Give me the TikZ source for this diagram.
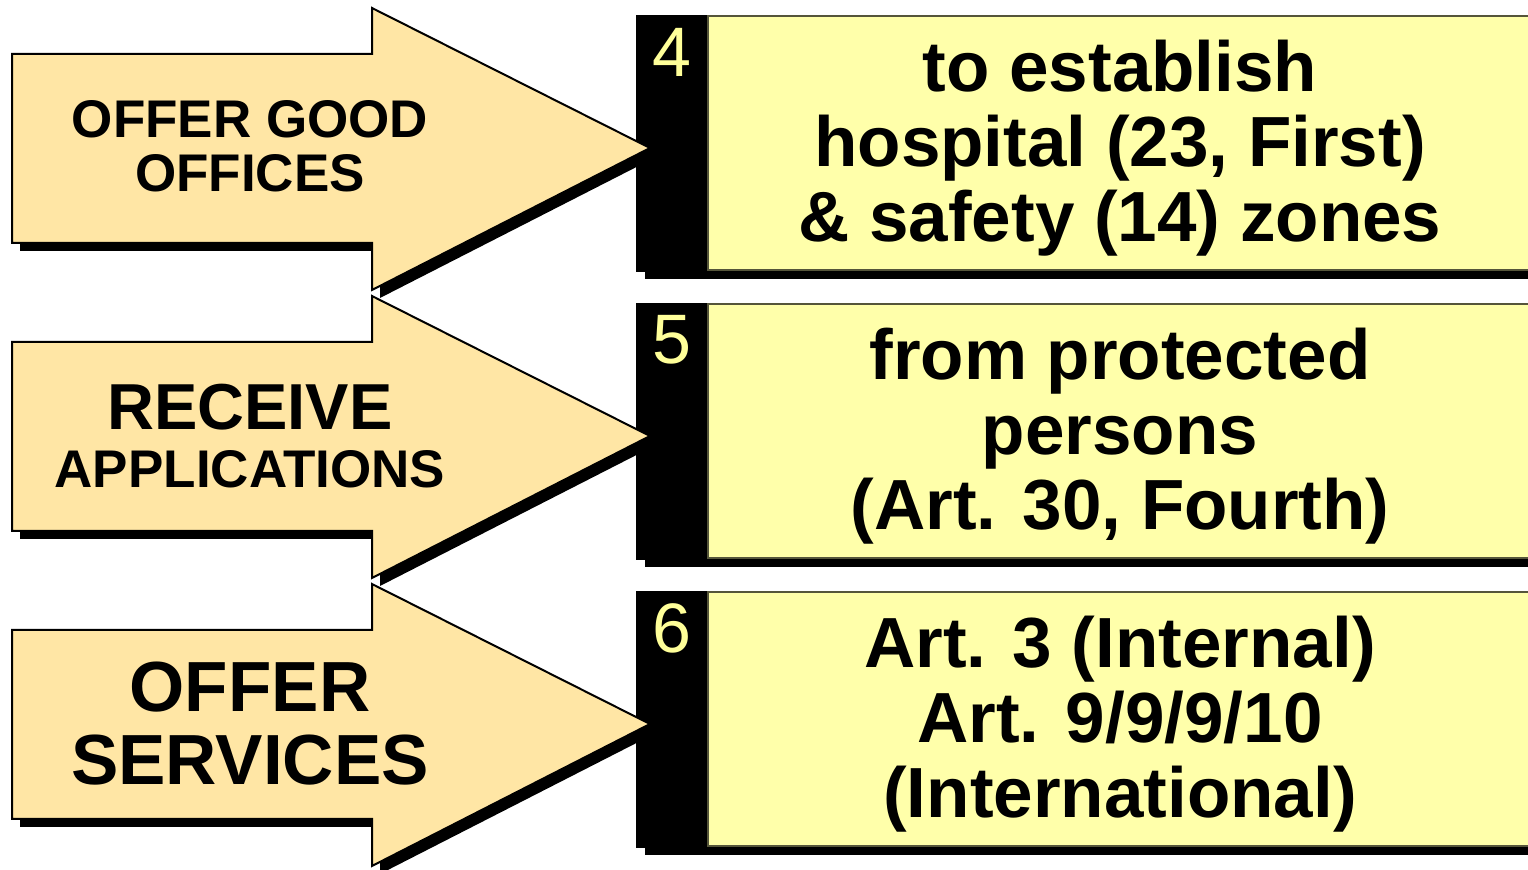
\documentclass[tikz,border=0pt]{standalone}
\usepackage{fontspec}
\setmainfont{Liberation Sans}
\usepackage{xcolor}
\usepackage{tikz}
\definecolor{arrowtan}{HTML}{FFE6A5}
\definecolor{boxyellow}{HTML}{FFFFAA}
\definecolor{digityellow}{HTML}{FFFF99}
\definecolor{boxedge}{HTML}{55553A}
\tikzset{
    arrow_body/.style = {fill=arrowtan, draw=black, line width=1pt, line join=miter},
    arrow_shadow/.style = {fill=black, draw=none},
    num_strip/.style = {fill=black, draw=none},
    text_box/.style = {fill=boxyellow, draw=boxedge, line width=0.8pt},
    box_shadow/.style = {fill=black, draw=none},
    num_label/.style = {text=digityellow, inner sep=0pt, font=\fontsize{35}{35}\selectfont},
    arrow_text/.style = {align=center, inner sep=0pt, text centered},
    box_text/.style = {align=center, inner sep=0pt, font=\bfseries\fontsize{35.5}{37.5}\selectfont}
}

\begin{document}
\begin{tikzpicture}[x=0.5pt, y=-0.5pt]
    \useasboundingbox (0,0) rectangle (1528,870);
    \clip (0,0) rectangle (1528,870);
    % row 4
    \fill [box_shadow] (645,23) rectangle (1540,279);
    \fill [num_strip] (636,15) rectangle (708,272);
    \draw [text_box] (708,16) rectangle (1540,270);
    \node [num_label] (num4) at (672,52) {4};
    \node [box_text] (box4) at (1120,148) {to establish\\hospital (23, First)\\\& safety (14) zones};
    \fill [arrow_shadow] (20,62) -- (380,62) -- (380,16) -- (658,156) -- (380,298) -- (380,251) -- (20,251) -- cycle;
    \draw [arrow_body] (12,54) -- (372,54) -- (372,8) -- (650,148) -- (372,290) -- (372,243) -- (12,243) -- cycle;
    \node [arrow_text, font=\bfseries\fontsize{26.5}{27}\selectfont] (offer_good) at (250,146) {OFFER GOOD\\OFFICES};
    % row 5
    \fill [box_shadow] (645,311) rectangle (1540,567);
    \fill [num_strip] (636,303) rectangle (708,560);
    \draw [text_box] (708,304) rectangle (1540,558);
    \node [num_label] (num5) at (672,340) {5};
    \node [box_text] (box5) at (1120,436) {from protected\\persons\\(Art. 30, Fourth)};
    \fill [arrow_shadow] (20,350) -- (380,350) -- (380,304) -- (658,444) -- (380,586) -- (380,539) -- (20,539) -- cycle;
    \draw [arrow_body] (12,342) -- (372,342) -- (372,296) -- (650,436) -- (372,578) -- (372,531) -- (12,531) -- cycle;
    \node [arrow_text, font=\bfseries\fontsize{26.5}{29}\selectfont] (receive) at (250,436)
        {{\fontsize{32.5}{29}\selectfont RECEIVE}\\APPLICATIONS};
    % row 6
    \fill [box_shadow] (645,599) rectangle (1540,855);
    \fill [num_strip] (636,591) rectangle (708,848);
    \draw [text_box] (708,592) rectangle (1540,846);
    \node [num_label] (num6) at (672,628) {6};
    \node [box_text] (box6) at (1120,724) {Art. 3 (Internal)\\Art. 9/9/9/10\\(International)};
    \fill [arrow_shadow] (20,638) -- (380,638) -- (380,592) -- (658,732) -- (380,874) -- (380,827) -- (20,827) -- cycle;
    \draw [arrow_body] (12,630) -- (372,630) -- (372,584) -- (650,724) -- (372,866) -- (372,819) -- (12,819) -- cycle;
    \node [arrow_text, font=\bfseries\fontsize{35.5}{36.5}\selectfont] (offer_services) at (250,724) {OFFER\\SERVICES};
\end{tikzpicture}
\end{document}
